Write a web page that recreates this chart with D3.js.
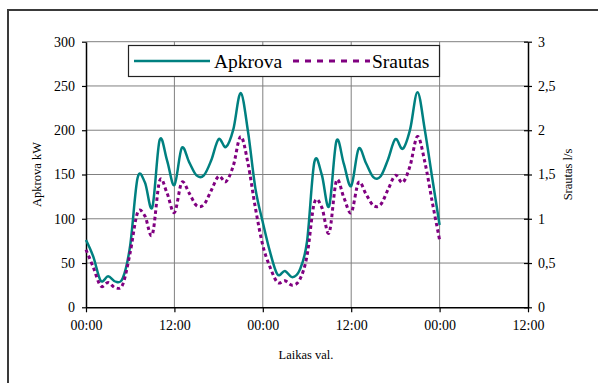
<!DOCTYPE html>
<html>
<head>
<meta charset="utf-8">
<script src="https://cdn.jsdelivr.net/npm/d3@7"></script>
<style>
  body { margin: 0; background: #fff; }
  svg { display: block; }
  svg text { font-family: "Liberation Serif", "Times New Roman", serif; }
</style>
</head>
<body>
<div id="chart"></div>
<script>
// hours since start, one reading per hour
const hours = d3.range(0, 49);
// Apkrova, kW
const apkrova = [
  76, 57, 30, 35, 29, 33, 70, 146, 141, 113, 189, 166, 138,
  180, 164, 149, 149, 166, 190, 181, 201, 242, 198, 134,
  96, 62, 37, 41, 34, 42, 74, 164, 150, 114, 188, 162, 137,
  179, 163, 147, 148, 167, 190, 179, 201, 243, 200, 146, 93
];
// Srautas, l/s
const srautas = [
  0.65, 0.45, 0.24, 0.28, 0.22, 0.26, 0.62, 1.07, 1.03, 0.82, 1.43, 1.29, 1.07,
  1.41, 1.29, 1.15, 1.16, 1.32, 1.48, 1.42, 1.60, 1.93, 1.62, 1.12,
  0.70, 0.45, 0.28, 0.30, 0.25, 0.31, 0.58, 1.18, 1.13, 0.84, 1.43, 1.24, 1.07,
  1.41, 1.28, 1.15, 1.16, 1.33, 1.49, 1.41, 1.60, 1.93, 1.64, 1.19, 0.76
];
const xTicks = [0, 12, 24, 36, 48, 60];
const xTickLabels = ["00:00", "12:00", "00:00", "12:00", "00:00", "12:00"];
const leftTicks = [0, 50, 100, 150, 200, 250, 300];
const rightTicks = [0, 0.5, 1, 1.5, 2, 2.5, 3];
const rightTickLabels = ["0", "0,5", "1", "1,5", "2", "2,5", "3"];

const width = 598, height = 383;
const plot = { left: 86, right: 528, top: 41.7, bottom: 307.3 };
const serif = "Liberation Serif";

const svg = d3.select("#chart").append("svg")
  .attr("width", width)
  .attr("height", height);

// outer chart frame (runs off the picture on the right and bottom)
svg.append("rect")
  .attr("x", 8).attr("y", 10)
  .attr("width", 640).attr("height", 420)
  .attr("fill", "#fff")
  .attr("stroke", "#3a3a3a")
  .attr("stroke-width", 2);

const x = d3.scaleLinear().domain([0, 60]).range([plot.left, plot.right]);
const yL = d3.scaleLinear().domain([0, 300]).range([plot.bottom, plot.top]);
const yR = d3.scaleLinear().domain([0, 3]).range([plot.bottom, plot.top]);

// gridlines
svg.append("g")
  .selectAll("line")
  .data(leftTicks.slice(1))
  .join("line")
  .attr("x1", plot.left).attr("x2", plot.right)
  .attr("y1", d => yL(d)).attr("y2", d => yL(d))
  .attr("stroke", "#808080").attr("stroke-width", 1);

svg.append("g")
  .selectAll("line")
  .data(xTicks.slice(1, -1))
  .join("line")
  .attr("x1", d => x(d)).attr("x2", d => x(d))
  .attr("y1", plot.top).attr("y2", plot.bottom)
  .attr("stroke", "#808080").attr("stroke-width", 1);

// axes
const axisLeft = svg.append("g")
  .attr("transform", "translate(" + plot.left + ",0)")
  .call(d3.axisLeft(yL).tickValues(leftTicks).tickSize(4).tickPadding(7).tickSizeOuter(0));

const axisRight = svg.append("g")
  .attr("transform", "translate(" + plot.right + ",0)")
  .call(d3.axisRight(yR).tickValues(rightTicks).tickSize(4).tickPadding(6).tickSizeOuter(0)
    .tickFormat((d, i) => rightTickLabels[i]));
axisRight.selectAll(".tick line").attr("x1", -4);

const axisBottom = svg.append("g")
  .attr("transform", "translate(0," + plot.bottom + ")")
  .call(d3.axisBottom(x).tickValues(xTicks).tickSize(5).tickPadding(8).tickSizeOuter(0)
    .tickFormat((d, i) => xTickLabels[i]));

[axisLeft, axisRight, axisBottom].forEach(a => {
  a.attr("font-family", serif);
  a.selectAll("path.domain").attr("stroke", "#000").attr("stroke-width", 1.5);
  a.selectAll(".tick line").attr("stroke", "#000").attr("stroke-width", 1.2);
  a.selectAll("text")
    .attr("font-family", serif)
    .attr("font-size", 14)
    .attr("fill", "#000");
});

// series
const lineL = d3.line()
  .x((d, i) => x(hours[i]))
  .y(d => yL(d))
  .curve(d3.curveCardinal.tension(0));

const lineR = d3.line()
  .x((d, i) => x(hours[i]))
  .y(d => yR(d))
  .curve(d3.curveCardinal.tension(0));

svg.append("path")
  .datum(apkrova)
  .attr("fill", "none")
  .attr("stroke", "#008080")
  .attr("stroke-width", 2.5)
  .attr("d", lineL);

svg.append("path")
  .datum(srautas)
  .attr("fill", "none")
  .attr("stroke", "#800080")
  .attr("stroke-width", 3)
  .attr("stroke-dasharray", "3.5,3")
  .attr("d", lineR);

// axis titles
svg.append("text")
  .attr("transform", "translate(41," + (plot.top + plot.bottom) / 2 + ") rotate(-90)")
  .attr("text-anchor", "middle")
  .attr("font-family", serif)
  .attr("font-size", 12.5)
  .text("Apkrova kW");

svg.append("text")
  .attr("transform", "translate(572," + (plot.top + plot.bottom) / 2 + ") rotate(-90)")
  .attr("text-anchor", "middle")
  .attr("font-family", serif)
  .attr("font-size", 12.5)
  .text("Srautas l/s");

svg.append("text")
  .attr("x", 306).attr("y", 359)
  .attr("text-anchor", "middle")
  .attr("font-family", serif)
  .attr("font-size", 12.5)
  .text("Laikas val.");

// legend
const legend = svg.append("g").attr("font-family", serif);
legend.append("rect")
  .attr("x", 128.5).attr("y", 45.5)
  .attr("width", 311).attr("height", 31)
  .attr("fill", "#fff")
  .attr("stroke", "#222")
  .attr("stroke-width", 1.2);
legend.append("line")
  .attr("x1", 134).attr("x2", 210).attr("y1", 61).attr("y2", 61)
  .attr("stroke", "#008080").attr("stroke-width", 2.5);
legend.append("text")
  .attr("x", 214).attr("y", 68)
  .attr("font-family", serif)
  .attr("font-size", 19.5)
  .text("Apkrova");
legend.append("line")
  .attr("x1", 293).attr("x2", 370).attr("y1", 61).attr("y2", 61)
  .attr("stroke", "#800080").attr("stroke-width", 3)
  .attr("stroke-dasharray", "6,6");
legend.append("text")
  .attr("x", 372).attr("y", 68)
  .attr("font-family", serif)
  .attr("font-size", 19.5)
  .text("Srautas");
</script>
</body>
</html>
